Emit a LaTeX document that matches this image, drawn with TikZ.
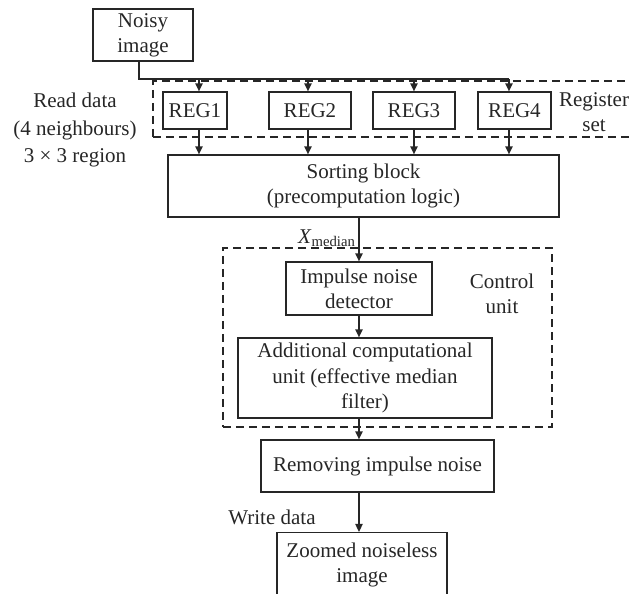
\documentclass[tikz,border=0pt]{standalone}
\usepackage{fontspec}
\setmainfont{Liberation Serif}
\usetikzlibrary{arrows.meta,positioning,fit}
\colorlet{linecolor}{black!85}

\begin{document}
\begin{tikzpicture}[
    x=0.5pt, y=-0.5pt,
    font=\fontsize{10.5}{12.6}\selectfont,
    block/.style={draw=linecolor, line width=0.6pt, inner sep=0pt, align=center, text=linecolor},
    arrow/.style={-{Triangle[length=4pt,width=3.6pt]}, line width=0.8pt, draw=linecolor},
    link/.style={line width=0.8pt, draw=linecolor},
    group/.style={draw=linecolor, dash pattern=on 4pt off 2.5pt, line width=0.6pt, inner sep=0pt},
    note/.style={align=center, text=linecolor}
]
    \clip (0,0) rectangle (629,594);

    % input and register set
    \node[block, minimum width=50pt, minimum height=26pt] (noisy) at (143,35) {Noisy\\image};
    \node[group, fit={(153,81) (660,137)}] (regset) {};
    \node[block, minimum width=32pt, minimum height=18.5pt] (reg1) at (195,110.5) {REG1};
    \node[block, minimum width=41pt, minimum height=18.5pt] (reg2) at (310,110.5) {REG2};
    \node[block, minimum width=41pt, minimum height=18.5pt] (reg3) at (414,110.5) {REG3};
    \node[block, minimum width=36.5pt, minimum height=18.5pt] (reg4) at (514.5,110.5) {REG4};
    \node[note] (regtext) at (594,112) {Register\\set};
    \node[note] (readdata) at (75,130) {Read data\\[1pt](4 neighbours)\\[1pt]3 × 3 region};

    \node[block, minimum width=195.5pt, minimum height=31pt] (sort) at (363.5,186) {Sorting block\\(precomputation logic)};

    % control unit
    \node[group, fit={(223,248) (552,427)}] (control) {};
    \node[block, minimum width=73pt, minimum height=26.5pt] (impulse) at (359,288.5) {Impulse noise\\detector};
    \node[block, minimum width=127pt, minimum height=40pt] (addl) at (365,378) {Additional computational\\unit (effective median\\filter)};
    \node[note] (ctrltext) at (502,294) {Control\\unit};
    \node[note] (xmedian) at (327,238) {\textit{X}\textsubscript{median}};

    \node[block, minimum width=116.5pt, minimum height=26pt] (remove) at (377.5,466) {Removing impulse noise};
    \node[note] (writedata) at (272,517) {Write data};
    \node[block, anchor=north, minimum width=85pt, inner ysep=5pt, text depth=40pt] (zoomed) at (362,532) {Zoomed noiseless\\image};

    % connectors
    \coordinate (split) at (139,79);
    \draw[link] (split |- noisy.south) -- (split) -- ([xshift=-2.75pt]reg4.north |- split);
    \foreach \r/\dx in {reg1/2pt, reg2/-1pt, reg3/0pt, reg4/-2.75pt} {
        \draw[arrow] ([xshift=\dx]\r.north |- split) -- ([xshift=\dx]\r.north);
        \draw[arrow] ([xshift=\dx]\r.south) -- ([xshift=\dx]\r.south |- sort.north);
    }
    \draw[arrow] (sort.south -| impulse.north) -- (impulse.north);
    \draw[arrow] (impulse.south) -- (impulse.south |- addl.north);
    \draw[arrow] (impulse.south |- addl.south) -- (impulse.south |- remove.north);
    \draw[arrow] (impulse.south |- remove.south) -- (impulse.south |- zoomed.north);
\end{tikzpicture}
\end{document}
